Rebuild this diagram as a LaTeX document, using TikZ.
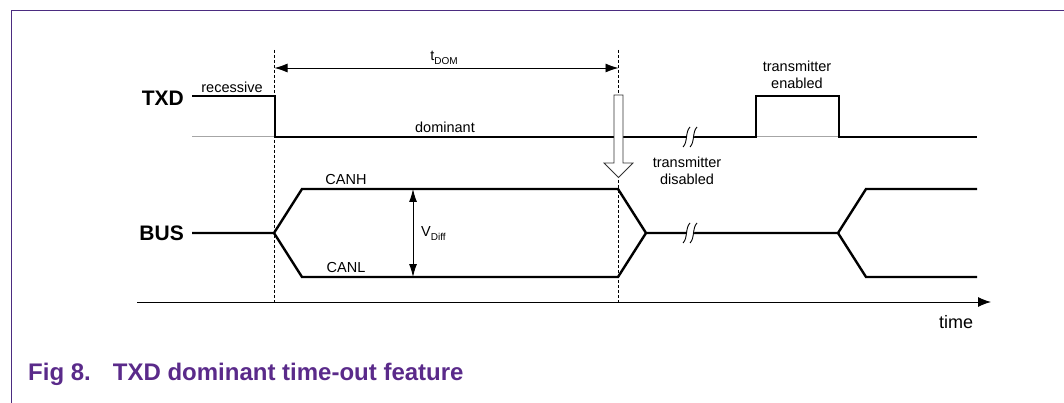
\documentclass[tikz,border=0pt]{standalone}
\usepackage{fontspec}
\setmainfont{Liberation Sans}
\usetikzlibrary{arrows.meta}
\definecolor{framepurple}{HTML}{4B2C80}
\definecolor{capurple}{HTML}{5A2A8A}
\tikzset{
  sig/.style={line width=2.4pt, line join=miter, line cap=butt},
  thin/.style={line width=0.9pt},
  base/.style={line width=1pt, draw=gray!70},
  guide/.style={line width=0.8pt, dash pattern=on 3pt off 2pt},
  lbl/.style={inner sep=0pt, font=\fontsize{14.5}{17}\selectfont},
  big/.style={inner sep=0pt, font=\fontsize{21}{25}\selectfont\bfseries},
  brk/.style={line width=0.9pt},
}
\newcommand{\breakmark}[2]{%
  \fill[white] (#1-6,#2+10) -- (#1+1,#2+10) -- (#1+7,#2-10) -- (#1,#2-10) -- cycle;
  \draw[brk] (#1-7,#2+10) .. controls (#1-2,#2+5) and (#1-5,#2-5) .. (#1,#2-10);
  \draw[brk] (#1,#2+10) .. controls (#1+5,#2+5) and (#1+2,#2-5) .. (#1+7,#2-10);
}
\begin{document}
\begin{tikzpicture}[x=1pt,y=-1pt]
\useasboundingbox (0,0) rectangle (1064,403);
% frame
\draw[framepurple, line width=1pt] (11,403) -- (11,11) -- (1064,11);

% guide dashed lines
\coordinate (g1t) at (274.5,50);
\coordinate (g1b) at (274.5,302);
\coordinate (g2t) at (618.5,50);
\coordinate (g2b) at (618.5,302);
\draw[guide] (g1t) -- (g1b);
\draw[guide] (g2t) -- (g2b);

% t_DOM arrow
\draw[thin, {Latex[length=13pt,width=9pt]}-{Latex[length=13pt,width=9pt]}] (274.5,68) -- (618.5,68);
\node[lbl] (tdom) at (444,58) {t\raisebox{-4pt}{\fontsize{10}{12}\selectfont DOM}};

% TXD
\node[big, anchor=east] (txd) at (184,98) {TXD};
\draw[base] (192,137) -- (977,137);
\draw[sig] (192,96) -- (275,96) -- (275,137) -- (756,137) -- (756,96) -- (839,96) -- (839,137) -- (977,137);
\node[lbl] (rec) at (232,87) {recessive};
\node[lbl] (dom) at (445,127) {dominant};
\node[lbl, align=center] (ten) at (797,75) {transmitter\\enabled};
\breakmark{690}{137}

% hollow arrow
\draw[line width=0.8pt, draw=black!80, fill=white, line join=miter]
  (614,95) -- (623,95) -- (623,163) -- (633,163) -- (618.5,177.5) -- (604,163) -- (614,163) -- cycle;
\node[lbl, align=center] (tdis) at (687,171) {transmitter\\disabled};

% BUS
\node[big, anchor=east] (bus) at (184,233) {BUS};
\draw[sig] (192,233) -- (274,233) -- (302,189) -- (618,189) -- (646,233) -- (838,233) -- (866,189) -- (977,189);
\draw[sig] (274,233) -- (302,277) -- (618,277) -- (646,233);
\draw[sig] (838,233) -- (866,277) -- (977,277);
\breakmark{690}{233}
\node[lbl] (canh) at (346,180) {CANH};
\node[lbl] (canl) at (346,268) {CANL};
\draw[line width=1pt, {Latex[length=13pt,width=8pt]}-{Latex[length=13pt,width=8pt]}] (413,189) -- (413,277);
\node[lbl, anchor=west] (vdiff) at (421,234) {V\raisebox{-4pt}{\fontsize{10}{12}\selectfont Diff}};

% time axis
\draw[line width=1pt, -{Latex[length=13pt,width=10pt]}] (137,302) -- (991,302);
\node[inner sep=0pt, font=\fontsize{18}{21}\selectfont] (time) at (956,322) {time};

% caption
\node[inner sep=0pt, anchor=base west, text=capurple, font=\fontsize{24}{28}\selectfont\bfseries] (cap) at (28,380) {Fig 8.\hspace{22pt}TXD dominant time-out feature};
\end{tikzpicture}
\end{document}
